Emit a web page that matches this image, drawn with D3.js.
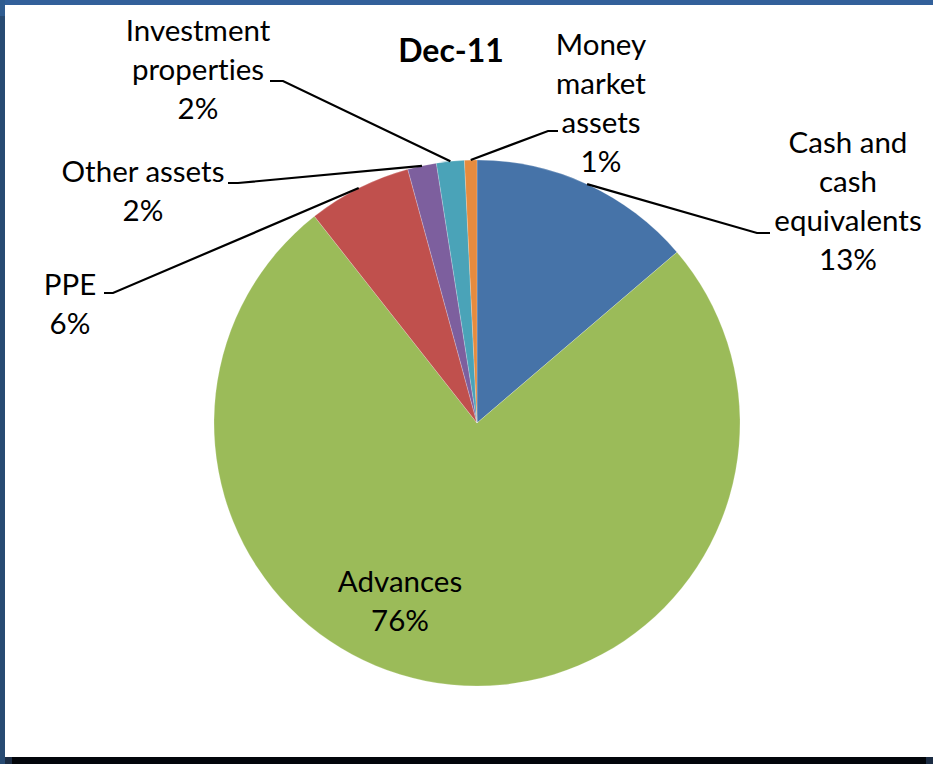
<!DOCTYPE html>
<html>
<head>
<meta charset="utf-8">
<script src="https://cdn.jsdelivr.net/npm/d3@7"></script>
<style>
  body { margin: 0; background: #fff; }
  svg { display: block; }
  text { font-family: Lato, "Open Sans", sans-serif; fill: #000; font-variant-ligatures: none; font-feature-settings: "liga" 0, "clig" 0; }
</style>
</head>
<body>
<svg id="chart" width="933" height="764"></svg>
<script>
// ---- data ----
const categories = ["Cash and cash equivalents", "Advances", "PPE", "Other assets", "Investment properties", "Money market assets"];
const values = [13.75, 75.65, 6.37, 1.77, 1.71, 0.76];
const pctLabels = ["13%", "76%", "6%", "2%", "2%", "1%"];
const labelLines = [
  ["Cash and", "cash", "equivalents"],
  ["Advances"],
  ["PPE"],
  ["Other assets"],
  ["Investment", "properties"],
  ["Money", "market", "assets"]
];
const colors = ["#4673A8", "#9BBB59", "#C0504D", "#7D5F9E", "#4AA3B8", "#E68B3E"];
const title = "Dec-11";

// ---- layout ----
const W = 933, H = 764;
const cx = 477, cy = 423, R = 263;
const lineH = 39;
const fontSize = 29.5;
// label centre x and first-line baseline
const labelPos = [
  { x: 848, y: 153 },
  { x: 400, y: 592 },
  { x: 70, y: 295 },
  { x: 143, y: 182 },
  { x: 198, y: 41 },
  { x: 601, y: 55 }
];
// leader: label-side anchor and stub end (null = no leader)
const leaders = [
  { a: [770, 233], b: [757, 233] },
  null,
  { a: [104, 293], b: [113, 293] },
  { a: [228, 183], b: [238, 183] },
  { a: [270, 81], b: [283, 81] },
  { a: [558, 131], b: [548, 131] }
];

const svg = d3.select("#chart");

// frame
svg.append("rect").attr("x", 0).attr("y", 0).attr("width", W).attr("height", H).attr("fill", "#fff");
svg.append("rect").attr("x", 0).attr("y", 0).attr("width", W).attr("height", 5).attr("fill", "#32609A");
svg.append("rect").attr("x", 0).attr("y", 0).attr("width", 5).attr("height", H).attr("fill", "#274A72");
svg.append("rect").attr("x", 0).attr("y", 0).attr("width", 5).attr("height", 16).attr("fill", "#2F5C90");
svg.append("rect").attr("x", 5).attr("y", 757).attr("width", W - 5).attr("height", H - 757).attr("fill", "#02050a");
svg.append("rect").attr("x", 5).attr("y", 757).attr("width", 7).attr("height", H - 757).attr("fill", "#1b2b42");
svg.append("rect").attr("x", 926).attr("y", 757).attr("width", 7).attr("height", H - 757).attr("fill", "#1b2b42");

// pie
const pie = d3.pie().sort(null).value(d => d)(values);
const arc = d3.arc().innerRadius(0).outerRadius(R);
const edgeArc = d3.arc().innerRadius(R).outerRadius(R);

const g = svg.append("g").attr("transform", `translate(${cx},${cy})`);
g.selectAll("path.slice")
  .data(pie)
  .join("path")
  .attr("class", "slice")
  .attr("d", arc)
  .attr("fill", (d, i) => colors[i])
  .attr("stroke", "rgba(255,255,255,0.35)")
  .attr("stroke-width", 0.6);

// leader lines
pie.forEach((d, i) => {
  const L = leaders[i];
  if (!L) return;
  const e = edgeArc.centroid(d);
  const pts = [L.a, L.b, [cx + e[0], cy + e[1]]];
  svg.append("path")
    .attr("d", d3.line()(pts))
    .attr("fill", "none")
    .attr("stroke", "#000")
    .attr("stroke-width", 2.2);
});

// labels
categories.forEach((c, i) => {
  const lines = labelLines[i].concat([pctLabels[i]]);
  const t = svg.append("text")
    .attr("text-anchor", "middle")
    .attr("font-size", fontSize);
  lines.forEach((s, k) => {
    t.append("tspan")
      .attr("x", labelPos[i].x)
      .attr("y", labelPos[i].y + k * lineH)
      .text(s);
  });
});

// title
svg.append("text")
  .attr("x", 451).attr("y", 62)
  .attr("text-anchor", "middle")
  .attr("font-size", 32)
  .attr("font-weight", "bold")
  .text(title);
</script>
</body>
</html>
